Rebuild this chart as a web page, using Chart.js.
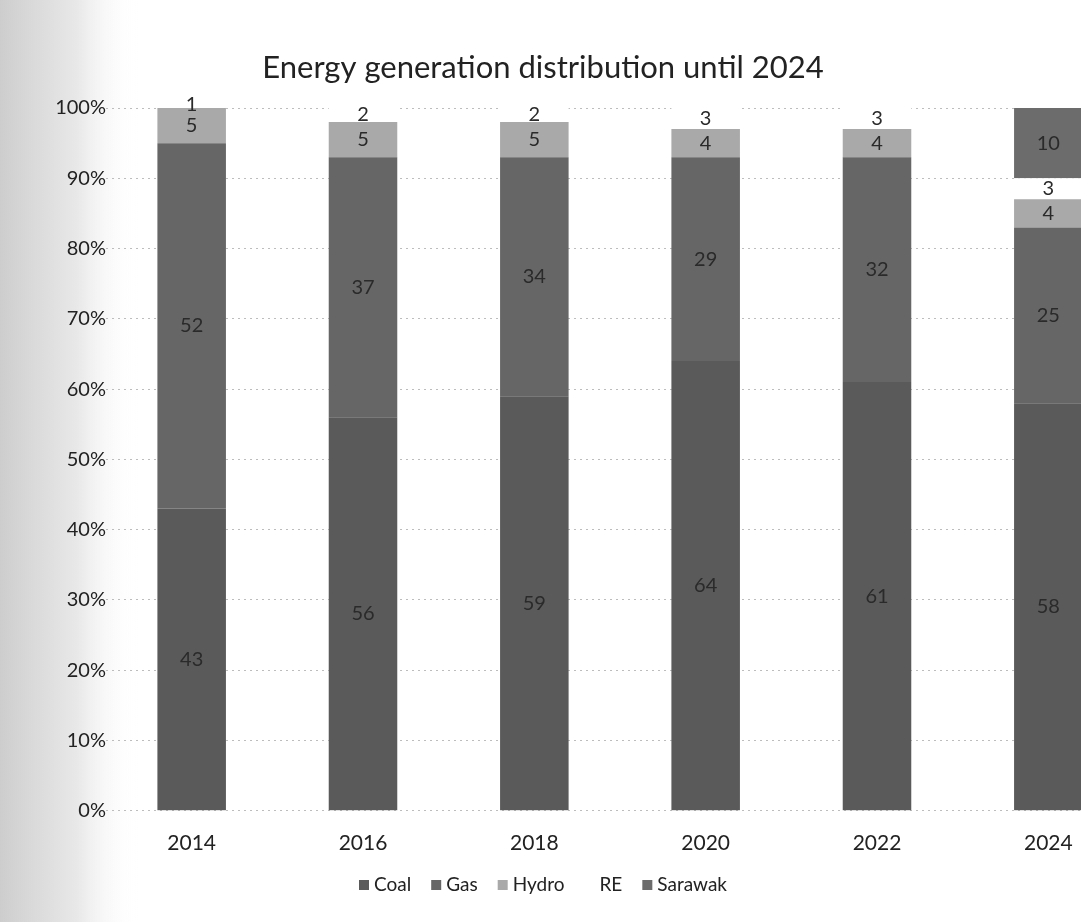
<!DOCTYPE html>
<html>
<head>
<meta charset="utf-8">
<script src="https://cdn.jsdelivr.net/npm/chart.js@4/dist/chart.umd.min.js"></script>
<style>
  html, body { margin: 0; padding: 0; background: #fff; overflow: hidden; }
  #wrap { position: absolute; left: 0; top: 0; width: 1140px; height: 922px; }
</style>
</head>
<body>
<div id="wrap"><canvas id="chart-area"></canvas></div>
<script>
// chart data
var years = ['2014', '2016', '2018', '2020', '2022', '2024'];
var coal = [43, 56, 59, 64, 61, 58];
var gas = [52, 37, 34, 29, 32, 25];
var hydro = [5, 5, 5, 4, 4, 4];
var re = [1, 2, 2, 3, 3, 3];
var sarawak = [0, 0, 0, 0, 0, 10];
var yTicks = [0, 10, 20, 30, 40, 50, 60, 70, 80, 90, 100];

var font = "Lato, 'Open Sans', sans-serif";
var titleText = 'Energy generation distribution until 2024';
var centreX = 543; // the picture is cropped on the right, so centre on the visible page

// the scan has a grey dotted band down the left side
var scanBand = {
  id: 'scanBand',
  beforeDraw: function(chart){
    var ctx = chart.ctx;
    var g = ctx.createLinearGradient(0, 0, 140, 0);
    g.addColorStop(0, 'rgba(205,205,205,1)');
    g.addColorStop(0.55, 'rgba(228,228,228,0.85)');
    g.addColorStop(1, 'rgba(255,255,255,0)');
    ctx.save();
    ctx.fillStyle = g;
    ctx.fillRect(0, 0, 140, chart.height);
    ctx.restore();
  }
};

// numbers in the middle of each segment
var segLabels = {
  id: 'segLabels',
  afterDatasetsDraw: function(chart){
    var ctx = chart.ctx;
    ctx.save();
    ctx.font = '20px ' + font;
    ctx.fillStyle = '#2a2a2a';
    ctx.textAlign = 'center';
    ctx.textBaseline = 'middle';
    chart.data.datasets.forEach(function(ds, i){
      var meta = chart.getDatasetMeta(i);
      meta.data.forEach(function(bar, j){
        var v = ds.data[j];
        if(!v) return;
        ctx.fillText(v, bar.x, (bar.y + bar.base) / 2);
      });
    });
    ctx.restore();
  }
};

// title + legend drawn by hand so they sit centred on the visible part
var pageText = {
  id: 'pageText',
  afterDraw: function(chart){
    var ctx = chart.ctx;
    ctx.save();
    ctx.fillStyle = '#222';
    ctx.textBaseline = 'middle';
    ctx.textAlign = 'center';
    ctx.font = '31px ' + font;
    ctx.fillText(titleText, centreX, 68);

    ctx.font = '19px ' + font;
    ctx.textAlign = 'left';
    var items = chart.data.datasets.map(function(ds){
      return { text: ds.label, color: ds.backgroundColor, w: 15 + ctx.measureText(ds.label).width };
    });
    var gap = 20;
    var total = 0;
    items.forEach(function(it){ total += it.w; });
    total += gap * (items.length - 1);
    var x = centreX - total / 2;
    var y = 885;
    items.forEach(function(it){
      ctx.fillStyle = it.color;
      ctx.fillRect(x, y - 5, 10, 10);
      ctx.fillStyle = '#222';
      ctx.fillText(it.text, x + 15, y);
      x += it.w + gap;
    });
    ctx.restore();
  }
};

var config = {
  type: 'bar',
  data: {
    labels: years,
    datasets: [
      { label: 'Coal', data: coal, backgroundColor: '#5a5a5a' },
      { label: 'Gas', data: gas, backgroundColor: '#666666' },
      { label: 'Hydro', data: hydro, backgroundColor: '#a9a9a9' },
      { label: 'RE', data: re, backgroundColor: '#ffffff' },
      { label: 'Sarawak', data: sarawak, backgroundColor: '#6c6c6c' }
    ]
  },
  options: {
    responsive: true,
    maintainAspectRatio: false,
    animation: false,
    layout: { padding: { left: 0, right: 6, top: 108, bottom: 54 } },
    datasets: { bar: { categoryPercentage: 1, barPercentage: 0.4 } },
    scales: {
      x: {
        stacked: true,
        grid: { display: false },
        border: { display: false },
        ticks: { color: '#222', font: { family: font, size: 21 }, padding: 12 }
      },
      y: {
        stacked: true,
        min: 0,
        max: 100,
        afterBuildTicks: function(scale){
          scale.ticks = yTicks.map(function(v){ return { value: v }; });
        },
        afterFit: function(scale){ scale.width = 106; },
        grid: { color: '#bdbdbd', tickLength: 0 },
        border: { display: false, dash: [2, 4] },
        ticks: {
          color: '#222',
          font: { family: font, size: 20 },
          padding: 0,
          callback: function(v){ return v + '%'; }
        }
      }
    },
    plugins: {
      title: { display: false },
      legend: { display: false },
      tooltip: { enabled: false }
    }
  },
  plugins: [scanBand, segLabels, pageText]
};

var ctx = document.getElementById('chart-area').getContext('2d');
window.myBar = new Chart(ctx, config);
</script>
</body>
</html>
